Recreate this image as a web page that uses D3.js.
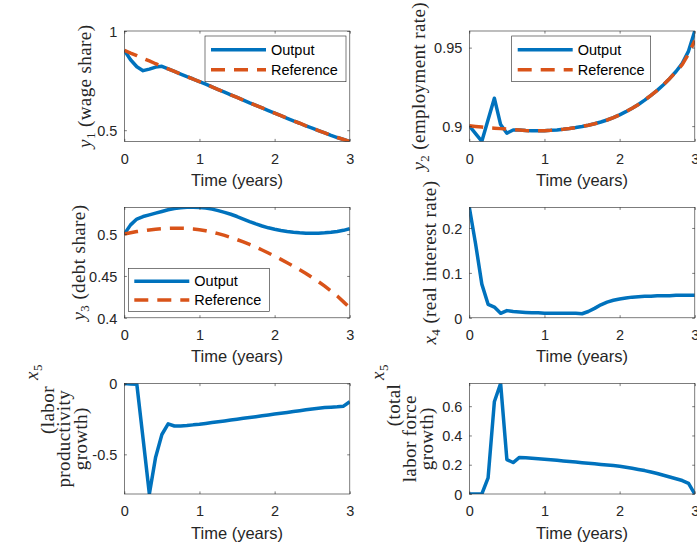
<!DOCTYPE html>
<html>
<head>
<meta charset="utf-8">
<script src="https://cdn.jsdelivr.net/npm/d3@7"></script>
<style>
  html, body { margin: 0; padding: 0; background: #fff; }
  svg { display: block; }
</style>
</head>
<body>
<svg id="fig" width="697" height="546"></svg>
<script>
// Simulation time grid: monthly samples over three years
const timeYears = d3.range(0, 37).map(m => m / 12);

// y1: wage share
const wageOutput = [0.903,0.855,0.820,0.800,0.808,0.818,0.822,0.809,0.796,0.783,0.770,0.758,0.745,0.732,0.718,0.705,0.692,0.678,0.665,0.652,0.638,0.625,0.612,0.599,0.586,0.573,0.560,0.547,0.535,0.522,0.510,0.498,0.486,0.474,0.463,0.453,0.443];
const wageReference = [0.903,0.889,0.876,0.862,0.849,0.835,0.822,0.809,0.796,0.783,0.770,0.758,0.745,0.732,0.718,0.705,0.692,0.678,0.665,0.652,0.638,0.625,0.612,0.599,0.586,0.573,0.560,0.547,0.535,0.522,0.510,0.498,0.486,0.474,0.463,0.453,0.443];

// y2: employment rate
const employmentOutput = [0.9002,0.8952,0.8903,0.9040,0.9178,0.9010,0.8955,0.8975,0.8975,0.8972,0.8970,0.8970,0.8971,0.8973,0.8976,0.8980,0.8985,0.8991,0.8998,0.9006,0.9015,0.9026,0.9039,0.9054,0.9072,0.9092,0.9114,0.9138,0.9166,0.9196,0.9228,0.9264,0.9304,0.9348,0.9400,0.9478,0.9606];
const employmentReference = [0.9002,0.8998,0.8994,0.8990,0.8987,0.8984,0.8981,0.8978,0.8975,0.8972,0.8970,0.8970,0.8971,0.8973,0.8976,0.8980,0.8985,0.8991,0.8998,0.9006,0.9015,0.9026,0.9039,0.9054,0.9072,0.9092,0.9114,0.9138,0.9166,0.9196,0.9228,0.9264,0.9304,0.9345,0.9392,0.9460,0.9545];

// y3: debt share
const debtOutput = [0.500,0.511,0.518,0.521,0.523,0.525,0.527,0.529,0.5305,0.5315,0.532,0.532,0.5318,0.5312,0.5298,0.528,0.526,0.5237,0.521,0.518,0.515,0.5122,0.5097,0.5075,0.5057,0.5042,0.503,0.5021,0.5015,0.5011,0.501,0.5011,0.5015,0.5022,0.5032,0.5045,0.5065];
const debtReference = [0.500,0.5015,0.503,0.504,0.505,0.5058,0.5064,0.5068,0.507,0.507,0.5068,0.5062,0.5053,0.504,0.5024,0.5005,0.4984,0.496,0.4934,0.4906,0.4876,0.4844,0.481,0.4774,0.4737,0.4698,0.4658,0.4617,0.4575,0.4530,0.4480,0.4432,0.4378,0.4320,0.4260,0.4190,0.4120];

// x4: real interest rate
const interestOutput = [0.246,0.165,0.075,0.030,0.024,0.010,0.016,0.014,0.013,0.012,0.011,0.011,0.010,0.010,0.010,0.010,0.010,0.010,0.009,0.014,0.021,0.029,0.035,0.039,0.042,0.044,0.046,0.047,0.048,0.048,0.049,0.049,0.049,0.050,0.050,0.050,0.050];

// x5: labor productivity growth
const productivityOutput = [0,-0.003,-0.005,-0.39,-0.78,-0.52,-0.36,-0.285,-0.30,-0.300,-0.297,-0.292,-0.288,-0.282,-0.276,-0.270,-0.264,-0.258,-0.252,-0.246,-0.240,-0.234,-0.228,-0.222,-0.216,-0.210,-0.204,-0.198,-0.192,-0.186,-0.180,-0.175,-0.170,-0.167,-0.164,-0.160,-0.128];

// x5: total labor force growth
const laborForceOutput = [0,0,0,0.11,0.63,0.755,0.235,0.215,0.25,0.247,0.244,0.241,0.238,0.234,0.230,0.226,0.222,0.218,0.214,0.210,0.206,0.202,0.198,0.194,0.190,0.183,0.176,0.168,0.160,0.150,0.140,0.128,0.116,0.104,0.092,0.073,0.0];

// Axis ticks
const timeTicks = [0, 1, 2, 3];
const wageTicks = [0.5, 1];
const employmentTicks = [0.9, 0.95];
const debtTicks = [0.4, 0.45, 0.5];
const interestTicks = [0, 0.1, 0.2];
const productivityTicks = [-0.5, 0];
const laborForceTicks = [0, 0.2, 0.4, 0.6];

const seriesNames = ["Output", "Reference"];
const xLabelText = "Time (years)";

const BLUE = "#0072BD", ORANGE = "#D95319", AXIS = "#262626";
const SANS = "'Liberation Sans', Arial, Helvetica, sans-serif";
const SERIF = "'Liberation Serif', 'Times New Roman', serif";

const W = 225.5, H = 110.5;

// label lines: [math symbol, subscript] + text; optional per-line vertical centre
const panels = [
  { left: 124.3, top: 31,    output: wageOutput, reference: wageReference, domain: [0.443, 1], ticks: wageTicks,
    label: [[["y", "1"], " (wage share)"]], labelX: [91],
    legend: { x: 205, y: 36, w: 141, h: 45.7 } },
  { left: 469.3, top: 31,    output: employmentOutput, reference: employmentReference, domain: [0.8902, 0.9606], ticks: employmentTicks,
    label: [[["y", "2"], " (employment rate)"]], labelX: [425],
    legend: { x: 511.7, y: 36, w: 139, h: 45.7 } },
  { left: 124.3, top: 207.3, output: debtOutput, reference: debtReference, domain: [0.4, 0.532], ticks: debtTicks,
    label: [[["y", "3"], " (debt share)"]], labelX: [85],
    legend: { x: 128.3, y: 268.3, w: 141, h: 43 } },
  { left: 469.3, top: 207.3, output: interestOutput, reference: null, domain: [0, 0.246], ticks: interestTicks,
    label: [[["x", "4"], " (real interest rate)"]], labelX: [436] },
  { left: 124.3, top: 383.5, output: productivityOutput, reference: null, domain: [-0.78, 0], ticks: productivityTicks,
    label: [[["x", "5"], ""], [null, "(labor"], [null, "productivity"], [null, "growth)"]], labelX: [38, 54, 70, 87],
    labelY: [372, 410, null, null] },
  { left: 469.3, top: 383.5, output: laborForceOutput, reference: null, domain: [0, 0.755], ticks: laborForceTicks,
    label: [[["x", "5"], ""], [null, "(total"], [null, "labor force"], [null, "growth)"]], labelX: [384, 400, 416, 433],
    labelY: [372, 405, null, null] }
];

const svg = d3.select("#fig");
svg.append("rect").attr("width", 697).attr("height", 546).attr("fill", "#fff");

panels.forEach((p, i) => {
  const x = d3.scaleLinear().domain([0, 3]).range([0, W]);
  const y = d3.scaleLinear().domain(p.domain).range([H, 0]);
  const g = svg.append("g").attr("transform", `translate(${p.left},${p.top})`);

  const clipId = `clip${i}`;
  g.append("clipPath").attr("id", clipId)
    .append("rect").attr("x", 0).attr("y", 0).attr("width", W).attr("height", H);

  // data lines
  const line = d3.line().x((d, k) => x(timeYears[k])).y(d => y(d));
  const plot = g.append("g").attr("clip-path", `url(#${clipId})`);
  plot.append("path").datum(p.output).attr("d", line)
    .attr("fill", "none").attr("stroke", BLUE).attr("stroke-width", 3.5)
    .attr("stroke-linejoin", "round");
  if (p.reference) {
    plot.append("path").datum(p.reference).attr("d", line)
      .attr("fill", "none").attr("stroke", ORANGE).attr("stroke-width", 3.5)
      .attr("stroke-dasharray", "14,9");
  }

  // axes with inward ticks on all four sides
  const tl = 2.6;
  const bottom = g.append("g").attr("transform", `translate(0,${H})`)
    .call(d3.axisBottom(x).tickValues(timeTicks).tickSizeInner(-tl).tickSizeOuter(0).tickPadding(12).tickFormat(d3.format("d")));
  const top = g.append("g")
    .call(d3.axisTop(x).tickValues(timeTicks).tickSizeInner(-tl).tickSizeOuter(0).tickFormat(""));
  const left = g.append("g")
    .call(d3.axisLeft(y).tickValues(p.ticks).tickSizeInner(-tl).tickSizeOuter(0).tickPadding(7).tickFormat(d => String(+d.toFixed(3))));
  const right = g.append("g").attr("transform", `translate(${W},0)`)
    .call(d3.axisRight(y).tickValues(p.ticks).tickSizeInner(-tl).tickSizeOuter(0).tickFormat(""));
  [bottom, top, left, right].forEach(a => {
    a.select(".domain").remove();
    a.selectAll(".tick line").attr("stroke", AXIS).attr("stroke-width", 0.6);
    a.selectAll("text").attr("font-family", SANS).attr("font-size", 14.5).attr("fill", AXIS);
  });
  left.selectAll("text").attr("dy", "0.36em");
  bottom.selectAll("text").attr("dy", "0.71em");

  g.append("rect").attr("x", 0).attr("y", 0).attr("width", W).attr("height", H)
    .attr("fill", "none").attr("stroke", AXIS).attr("stroke-width", 0.6);

  // x label
  g.append("text").attr("x", W / 2).attr("y", H + 44.5)
    .attr("text-anchor", "middle").attr("font-family", SANS).attr("font-size", 16.5).attr("fill", AXIS)
    .text(xLabelText);

  // y label (math-style serif, possibly multi-line)
  const cy = p.top + H / 2;
  p.label.forEach((ln, k) => {
    const ly = (p.labelY && p.labelY[k] != null) ? p.labelY[k] : cy;
    const t = svg.append("text")
      .attr("transform", `translate(${p.labelX[k]},${ly}) rotate(-90)`)
      .attr("text-anchor", "middle").attr("font-family", SERIF).attr("font-size", 19)
      .attr("letter-spacing", 0.4).attr("fill", AXIS);
    if (ln[0]) {
      t.append("tspan").attr("font-style", "italic").text(ln[0][0]);
      t.append("tspan").attr("font-size", 13).attr("dy", 4).text(ln[0][1]);
      t.append("tspan").attr("dy", -4).text(ln[1]);
    } else {
      t.text(ln[1]);
    }
  });

  // legend
  if (p.legend) {
    const L = p.legend;
    const lg = svg.append("g").attr("transform", `translate(${L.x},${L.y})`);
    lg.append("rect").attr("width", L.w).attr("height", L.h)
      .attr("fill", "#fff").attr("stroke", AXIS).attr("stroke-width", 0.6);
    const rows = [L.h * 0.3, L.h * 0.74];
    seriesNames.forEach((name, k) => {
      lg.append("line").attr("x1", 6).attr("x2", 61).attr("y1", rows[k]).attr("y2", rows[k])
        .attr("stroke", k === 0 ? BLUE : ORANGE).attr("stroke-width", 3.5)
        .attr("stroke-dasharray", k === 0 ? null : "14,9");
      lg.append("text").attr("x", 66).attr("y", rows[k]).attr("dy", "0.36em")
        .attr("font-family", SANS).attr("font-size", 14.5).attr("fill", "#000").text(name);
    });
  }
});
</script>
</body>
</html>
